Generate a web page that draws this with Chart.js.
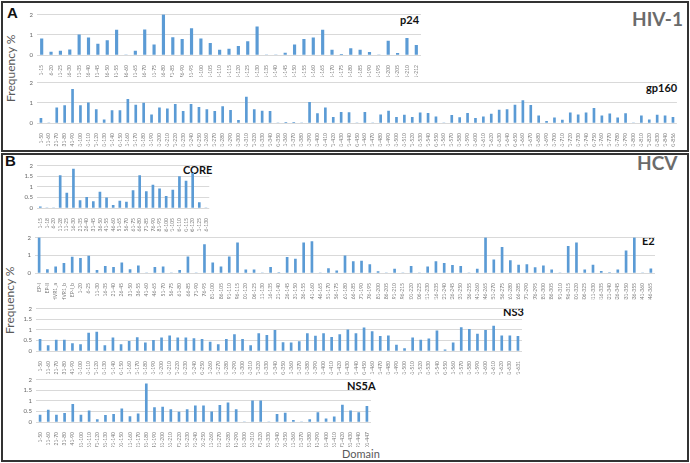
<!DOCTYPE html>
<html>
<head>
<meta charset="utf-8">
<script src="https://cdn.jsdelivr.net/npm/chart.js@4.4.1/dist/chart.umd.min.js"></script>
<style>
  body { margin: 0; background: #fff; width: 690px; height: 463px; position: relative; overflow: hidden; font-family: Lato, "Open Sans", sans-serif; }
  .box { position: absolute; border: 2px solid #333; box-sizing: border-box; }
  canvas { position: absolute; }
  .txt { position: absolute; white-space: nowrap; line-height: 1; }
  .panel { font-family: "Liberation Sans", Arial, sans-serif; font-weight: bold; font-size: 15px; color: #111; }
  .virus { font-weight: bold; font-size: 19px; color: #6b6b6b; }
  .name { font-weight: bold; font-size: 11px; color: #111; }
  .ylab { font-size: 12px; color: #595959; transform: rotate(-90deg); transform-origin: center; }
</style>
</head>
<body>
<div class="box" style="left:1px;top:1px;width:688px;height:151px"></div>
<div class="box" style="left:1px;top:153px;width:688px;height:309px"></div>

<div class="txt panel" style="left:7px;top:5px">A</div>
<div class="txt panel" style="left:5px;top:153px">B</div>
<div class="txt virus" style="left:632px;top:9px">HIV-1</div>
<div class="txt virus" style="left:637px;top:153px">HCV</div>

<div class="txt ylab" style="left:-21px;top:64px;width:64px;text-align:center">Frequency %</div>
<div class="txt ylab" style="left:-22px;top:296px;width:64px;text-align:center">Frequency %</div>
<div class="txt" style="left:342px;top:448px;font-size:11px;color:#595959">Domain</div>

<div class="txt name" style="left:400px;top:14px">p24</div>
<div class="txt name" style="left:646px;top:82px">gp160</div>
<div class="txt name" style="left:183px;top:164px">CORE</div>
<div class="txt name" style="left:642px;top:235px">E2</div>
<div class="txt name" style="left:503px;top:306px">NS3</div>
<div class="txt name" style="left:347px;top:380px">NS5A</div>

<canvas id="p24"></canvas>
<canvas id="gp160"></canvas>
<canvas id="core"></canvas>
<canvas id="e2"></canvas>
<canvas id="ns3"></canvas>
<canvas id="ns5a"></canvas>

<script>
// HIV-1 p24 domains
const p24Labels = ['1-15','6-20','11-25','16-30','21-35','26-40','31-45','36-50','41-55','46-60',
  '51-65','56-70','61-75','66-80','71-85','76-90','81-95','86-100','91-105','96-110',
  '101-115','106-120','111-125','116-130','121-135','126-140','131-145','136-150','141-155','146-160',
  '151-165','156-170','161-175','166-180','171-185','176-190','181-195','186-200','191-205','196-210',
  '201-212'];
const p24Values = [0.8,0.14,0.19,0.26,1.0,0.85,0.54,0.72,1.23,0,
  0.19,1.25,0.5,2.0,0.86,0.77,1.31,0.8,0.58,0.24,
  0.29,0.43,0.67,1.39,0,0,0.1,0.5,0.77,0.85,
  1.23,0.24,0.03,0.32,0.24,0.13,0,0.69,0.08,0.83,
  0.48];

// HIV-1 gp160 domains
const gp160Labels = ['1-50','11-60','21-70','31-80','41-90','51-100','61-110','71-120','81-130','91-140',
  '101-150','111-160','121-170','131-180','141-190','151-200','161-210','171-220','181-230','191-240',
  '201-250','211-260','221-270','231-280','241-290','251-300','261-310','271-320','281-330','291-340',
  '301-350','311-360','321-370','331-380','341-390','351-400','361-410','371-420','381-430','391-440',
  '401-450','411-460','421-470','431-480','441-490','451-500','461-510','471-520','481-530','491-540',
  '501-550','511-560','521-570','531-580','541-590','551-600','561-610','571-620','581-630','591-640',
  '601-650','611-660','621-670','631-680','641-690','651-700','661-710','671-720','681-730','691-740',
  '701-750','711-760','721-770','731-780','741-790','751-800','761-810','771-820','781-830','791-840',
  '801-856'];
const gp160Values = [0.23,0,0.75,0.86,1.67,0.86,1.0,0.67,0.16,0.61,
  0.61,1.17,0.89,0.98,0.41,0.75,0.7,0.92,0.58,0.92,
  0.77,0.66,0.58,0.81,0.63,0.13,1.28,0.67,0.59,0.58,
  0,0.03,0.03,0,1.02,0.47,0.75,0.28,0.53,0.52,
  0,0.53,0,0.4,0.59,0.28,0.39,0.28,0.5,0.48,
  0.31,0,0.38,0.27,0.48,0.23,0.31,0.44,0.64,0.67,
  0.89,1.11,0.88,0.36,0.08,0.25,0.14,0.5,0.41,0.5,
  0.73,0.36,0.45,0.25,0.47,0,0.36,0.16,0.39,0.36,
  0.28];

// HCV core
const coreLabels = ['1-15','1-18','6-20','11-28','11-25','16-30','21-35','26-40','31-45','36-50',
  '41-55','46-60','51-65','56-70','61-75','66-80','71-85','76-90','81-95','86-100',
  '91-105','96-110','101-115','106-120','111-125','116-130'];
const coreValues = [0.05,0,0,1.53,0.7,1.84,0.35,0.5,0.3,0.75,
  0.48,0.13,0.33,0.28,0.82,1.53,0.78,1.08,0.9,0.55,
  0.85,1.48,1.27,1.63,0.25,0];

// HCV E2
const e2Labels = ['EP-I','EP-II','HVR1_a','HVR1_b','EP-I_b',
  '1-20','6-25','11-30','16-35','21-40','26-45','31-50','36-55','41-60','46-65',
  '51-70','56-75','61-80','66-85','71-90','76-95','81-100','86-105','91-110','96-115',
  '101-120','106-125','111-130','116-135','121-140','126-145','131-150','136-155','141-160','146-165',
  '151-170','156-175','161-180','166-185','171-190','176-195','181-200','186-205','191-210','196-215',
  '201-220','206-225','211-230','216-235','221-240','226-245','231-250','236-255','241-260','246-265',
  '251-270','256-275','261-280','266-285','271-290','276-295','281-300','286-305','291-310','296-315',
  '301-320','306-325','311-330','316-335','321-340','326-345','331-350','336-355','341-360','346-365'];
const e2Values = [2.0,0.2,0.35,0.55,0.9,0.83,0.95,0.15,0.38,0.32,
  0.57,0.2,0.4,0,0.32,0.35,0,0.15,0.92,0,
  1.6,0.58,0.35,0.92,1.7,0.18,0.18,0,0.32,0.03,
  0.88,0.78,1.7,1.78,0,0.25,0.12,0.97,0.65,0.67,
  0.48,0.08,0,0.22,0,0.38,0,0.35,0.65,0.55,
  0.43,0.37,0,0.22,2.0,0.75,1.45,0.7,0.45,0.48,
  0.3,0.4,0.18,0,1.5,1.7,0.18,0.45,0.1,0.03,
  0.18,1.25,2.0,0,0.23];

// HCV NS3 and NS5A use the same 50-residue windows
const ns3Labels = [...gp160Labels.slice(0, 59), '591-631'];
const ns3Values = [0.55,0.26,0.52,0.52,0.35,0.3,0.84,0.89,0.26,0.62,
  0.3,0.46,0.63,0.38,0.5,0.62,0.72,0.62,0.62,0.58,
  0.55,0.42,0.3,0.55,0.77,0.55,0.26,0.82,0.74,0.97,
  0.4,0.38,0.45,0.82,0.7,0.82,0.65,0.78,1.0,0.82,
  1.09,0.92,0.69,0.72,0.28,0.11,0.62,0.52,0.57,0.95,
  0.06,0.38,1.1,1.02,0.8,0.98,1.17,0.72,0.72,0.69];

const ns5aLabels = [...gp160Labels.slice(0, 40), '401-447'];
const ns5aValues = [0.33,0.56,0.33,0.41,0.83,0.33,0.53,0.12,0.32,0.36,
  0.62,0.26,0.38,1.8,0.68,0.7,0.59,0.47,0.59,0.76,
  0.76,0.48,0.79,0.91,0.59,0,1.0,1.0,0,0.36,
  0.42,0.08,0,0.11,0.45,0.15,0.24,0.8,0.53,0.44,
  0.74];

// draw one small excel-style bar chart, plot box given in page pixels
function drawBars(id, labels, values, area, thick) {
  const cv = document.getElementById(id);
  const left = 12;
  const top = area.t - 6;
  const w = area.r + 4 - left;
  const h = area.b + area.lab - top;
  cv.style.left = left + 'px';
  cv.style.top = top + 'px';
  cv.width = w;
  cv.height = h;

  new Chart(cv, {
    type: 'bar',
    data: {
      labels: labels,
      datasets: [{ data: values, backgroundColor: '#5b9bd5', barThickness: thick }]
    },
    options: {
      responsive: false,
      animation: false,
      layout: { padding: { top: 6, right: 4, left: 0, bottom: 0 } },
      plugins: { legend: { display: false }, tooltip: { enabled: false } },
      scales: {
        x: {
          grid: { display: false },
          border: { display: false },
          ticks: {
            autoSkip: false, minRotation: 90, maxRotation: 90, padding: 2,
            color: '#7a7a7a', font: { size: 5, family: 'Lato' }
          },
          afterFit: s => { s.height = area.lab; }
        },
        y: {
          min: 0, max: 2,
          grid: { color: '#d9d9d9', drawTicks: false },
          border: { display: false },
          ticks: {
            stepSize: 0.5, padding: 4, color: '#666', font: { size: 6, family: 'Lato' },
            callback: v => String(+v)
          },
          afterFit: s => { s.width = area.l - left; }
        }
      }
    }
  });
}

drawBars('p24', p24Labels, p24Values, { l: 37, r: 421, t: 13, b: 55, lab: 22 }, 2.5);
drawBars('gp160', gp160Labels, gp160Values, { l: 37, r: 677, t: 81, b: 123, lab: 24 }, 2);
drawBars('core', coreLabels, coreValues, { l: 37, r: 210, t: 164, b: 208, lab: 24 }, 2);
drawBars('e2', e2Labels, e2Values, { l: 35, r: 655, t: 236, b: 273, lab: 27 }, 2);
drawBars('ns3', ns3Labels, ns3Values, { l: 36, r: 522, t: 307, b: 351, lab: 24 }, 2);
drawBars('ns5a', ns5aLabels, ns5aValues, { l: 36, r: 371, t: 378, b: 422, lab: 25 }, 2);
</script>
</body>
</html>
